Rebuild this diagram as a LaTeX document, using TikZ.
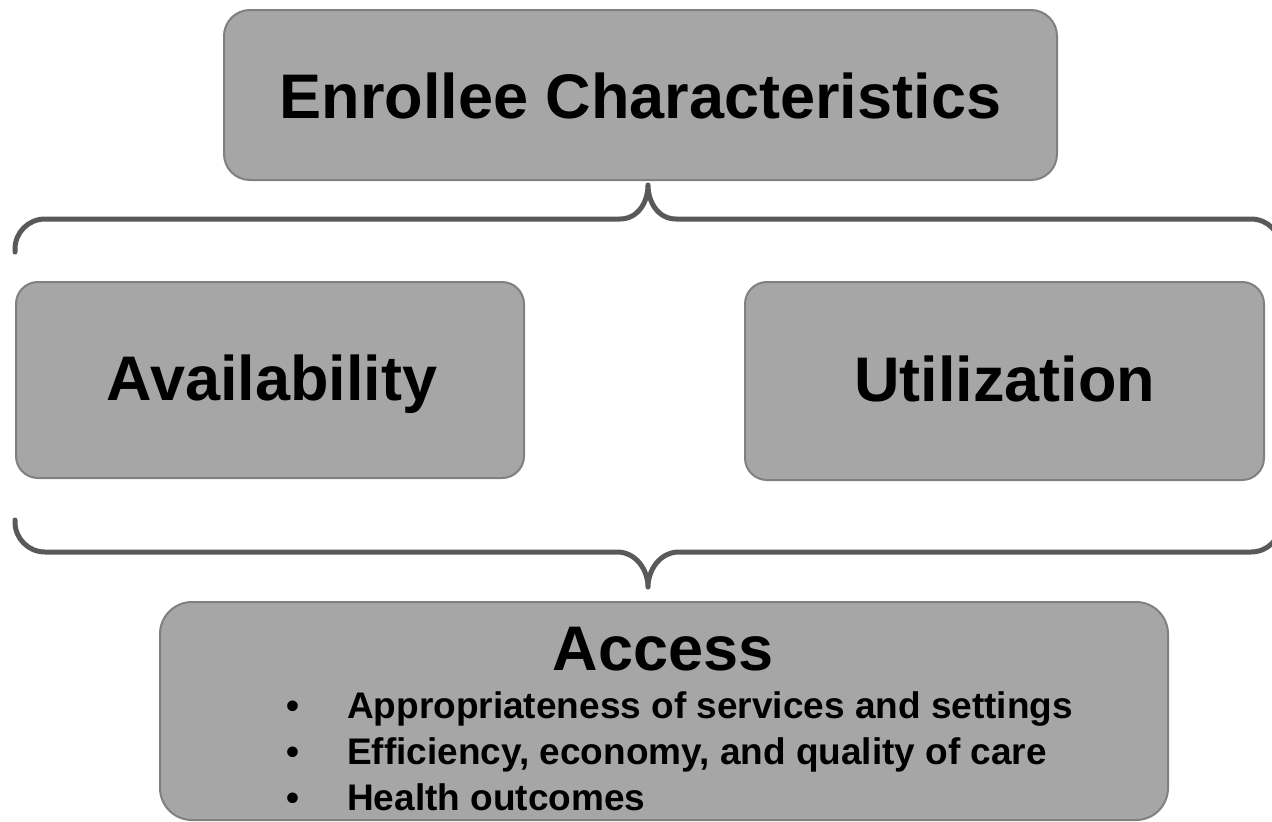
\documentclass[tikz,border=0pt]{standalone}
\usepackage{fontspec}
\setmainfont{Liberation Sans}
\definecolor{boxfill}{HTML}{A6A6A6}
\definecolor{boxline}{HTML}{808080}
\definecolor{bracecol}{HTML}{595959}
\begin{document}
\begin{tikzpicture}[x=1pt,y=-1pt,
  gbox/.style={draw=boxline,line width=2pt,fill=boxfill},
  brace/.style={draw=bracecol,line width=5pt,line cap=round,line join=round},
  big/.style={font=\fontsize{63}{75}\selectfont\bfseries,text=black,inner sep=0pt,anchor=base},
  small/.style={font=\fontsize{37}{44}\selectfont\bfseries,text=black,inner sep=0pt}]
\useasboundingbox (0,0) rectangle (1272,822);
\begin{scope}
\clip (0,0) rectangle (1272,822);
% boxes
\draw[gbox,rounded corners=26pt] (224,10) rectangle (1057,180);
\draw[gbox,rounded corners=22pt] (16,282) rectangle (524,478);
\draw[gbox,rounded corners=22pt] (745,282) rectangle (1264,480);
\draw[gbox,rounded corners=32pt] (160,602) rectangle (1168,820);
% braces
\coordinate (tcusp) at (648,185);
\coordinate (bcusp) at (648,587);
\draw[brace] (15,252) -- (15,249) .. controls (15,232.4) and (28.4,219) .. (45,219)
  -- (620,219) .. controls (638,219) and (648,202) .. (tcusp)
  .. controls (648,202) and (658,219) .. (676,219)
  -- (1251,219) .. controls (1267.6,219) and (1281,232.4) .. (1281,249) -- (1281,252);
\draw[brace] (15,520) -- (15,522) .. controls (15,538.6) and (28.4,552) .. (45,552)
  -- (617,552) .. controls (636,552) and (648,570) .. (bcusp)
  .. controls (648,570) and (660,552) .. (679,552)
  -- (1251,552) .. controls (1267.6,552) and (1281,538.6) .. (1281,522) -- (1281,520);
\end{scope}
% texts
\node[big] (enr) at (640.5,118) {Enrollee Characteristics};
\node[big] (avail) at (272,400) {Availability};
\node[big] (util) at (1004.5,401) {Utilization};
\node[big] (acc) at (663,670) {Access};
\node[small,anchor=base west] (b1) at (347,718) {Appropriateness of services and settings};
\node[small,anchor=base west] (b2) at (347,764) {Efficiency, economy, and quality of care};
\node[small,anchor=base west] (b3) at (347,810) {Health outcomes};
\node[small,anchor=base] (d1) at (293,718) {•};
\node[small,anchor=base] (d2) at (293,764) {•};
\node[small,anchor=base] (d3) at (293,810) {•};
\end{tikzpicture}
\end{document}
